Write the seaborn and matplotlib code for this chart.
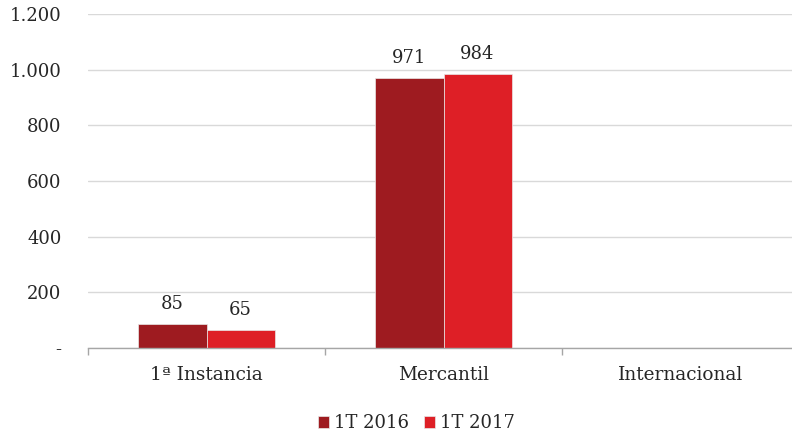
import matplotlib
matplotlib.use("Agg")
import matplotlib.pyplot as plt
import seaborn as sns
import pandas as pd
import numpy as np
from matplotlib.ticker import FixedLocator

categories = ["1ª Instancia", "Mercantil", "Internacional"]
series_names = ["1T 2016", "1T 2017"]
values_2016 = [85, 971, 0]
values_2017 = [65, 984, 0]
y_ticks = [0, 200, 400, 600, 800, 1000, 1200]
y_tick_labels = ["-", "200", "400", "600", "800", "1.000", "1.200"]
colors = ["#9E1B20", "#DE1F26"]

df = pd.DataFrame({
    "cat": categories * 2,
    "serie": [series_names[0]] * 3 + [series_names[1]] * 3,
    "val": values_2016 + values_2017,
})

sns.set_theme(style="white")
plt.rcParams["font.family"] = ["DejaVu Serif"]
text_color = "#262626"

fig = plt.figure(figsize=(7.92, 4.37), dpi=100)
ax = fig.add_axes([88/792, 1 - 348/437, 711/792, (348 - 14)/437])

sns.barplot(data=df, x="cat", y="val", hue="serie", palette=colors,
            width=0.574, gap=0, ax=ax, legend=True, saturation=1,
            edgecolor="#e8e8e8", linewidth=0.5)

ax.set_ylim(0, 1200)
ax.set_xlim(-0.5, 2.5)
ax.set_yticks(y_ticks)
ax.set_yticklabels(y_tick_labels, fontsize=13, color=text_color)
ax.tick_params(axis="y", length=0, pad=19)
ax.tick_params(axis="x", which="major", length=0, pad=13, labelsize=13.3, labelcolor=text_color)
ax.xaxis.set_minor_locator(FixedLocator([-0.5, 0.5, 1.5, 2.5]))
ax.tick_params(axis="x", which="minor", bottom=True, length=5, width=1,
               color="#a6a6a6", direction="out")
ax.set_xlabel("")
ax.set_ylabel("")
ax.grid(axis="y", color="#d9d9d9", linewidth=1)
ax.set_axisbelow(True)
for s in ["top", "right", "left"]:
    ax.spines[s].set_visible(False)
ax.spines["bottom"].set_color("#a6a6a6")
ax.spines["bottom"].set_linewidth(1)

for cont in ax.containers:
    labels = [f"{int(v)}" if v > 0 else "" for v in cont.datavalues]
    ax.bar_label(cont, labels=labels, padding=8, fontsize=13, color=text_color)

leg = ax.legend(loc="upper center", bbox_to_anchor=(0.462, -0.15), ncol=2,
                frameon=False, fontsize=13, handlelength=0.6, handleheight=0.6,
                handletextpad=0.3, columnspacing=0.8)
for t in leg.get_texts():
    t.set_color(text_color)

fig.savefig("out.png", dpi=100)
